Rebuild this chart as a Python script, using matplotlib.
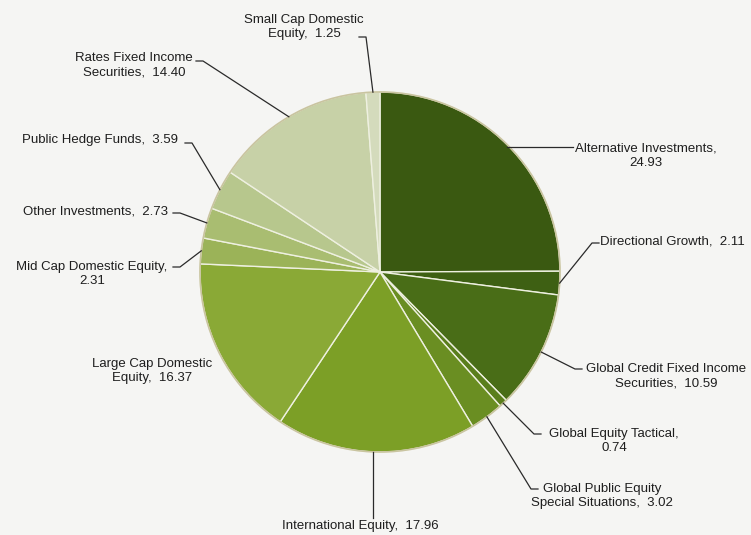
import matplotlib.pyplot as plt
import numpy as np

categories = ['Alternative Investments', 'Directional Growth',
              'Global Credit Fixed Income Securities', 'Global Equity Tactical',
              'Global Public Equity Special Situations', 'International Equity',
              'Large Cap Domestic Equity', 'Mid Cap Domestic Equity',
              'Other Investments', 'Public Hedge Funds',
              'Rates Fixed Income Securities', 'Small Cap Domestic Equity']
values = [24.93, 2.11, 10.59, 0.74, 3.02, 17.96, 16.37, 2.31, 2.73, 3.59, 14.40, 1.25]
label_text = ['Alternative Investments,\n24.93', 'Directional Growth,  2.11',
              'Global Credit Fixed Income\nSecurities,  10.59', 'Global Equity Tactical,\n0.74',
              'Global Public Equity\nSpecial Situations,  3.02', 'International Equity,  17.96',
              'Large Cap Domestic\nEquity,  16.37', 'Mid Cap Domestic Equity,\n2.31',
              'Other Investments,  2.73', 'Public Hedge Funds,  3.59',
              'Rates Fixed Income\nSecurities,  14.40', 'Small Cap Domestic\nEquity,  1.25']
colors = ['#3a5911', '#3e6013', '#496d17', '#5a7e1c', '#6a8e22', '#7c9f26',
          '#8aa936', '#9bb358', '#a9bd71', '#b7c78d', '#c7d1a7', '#d4dbbc']

# layout in pixels: centre and radius of the pie
W, H = 751, 535
cx, cy, R = 380, 272, 180

def to_data(px, py):
    return (px - cx) / R, (cy - py) / R

# text anchor (px), ha, elbow point (px) or None
label_layout = [
    ((575, 156), 'left', (573, 147)),
    ((600, 242), 'left', (592, 243)),
    ((666, 376), 'center', (575, 369)),
    ((614, 441), 'center', (534, 434)),
    ((602, 496), 'center', (531, 489)),
    ((360, 526), 'center', (373, 518)),
    ((152, 371), 'center', None),
    ((92, 274), 'center', (180, 267)),
    ((95, 211), 'center', (180, 213)),
    ((100, 140), 'center', (192, 143)),
    ((134, 65), 'center', (203, 61)),
    ((304, 27), 'center', (366, 37)),
]

fig = plt.figure(figsize=(W / 100, H / 100), dpi=100)
fig.patch.set_facecolor('#f5f5f3')
ax = fig.add_axes([0, 0, 1, 1])
ax.set_facecolor('#f5f5f3')

wedges, _ = ax.pie(values, colors=colors, startangle=90, counterclock=False,
                   radius=1.0, center=(0, 0),
                   wedgeprops=dict(edgecolor='#eef0e0', linewidth=1.0))
ax.add_patch(plt.Circle((0, 0), 1.0, fill=False, edgecolor='#c9c4a0', linewidth=1.2))

font = ['Liberation Sans Narrow', 'Liberation Sans', 'DejaVu Sans']
for w, txt, (tpos, ha, elbow) in zip(wedges, label_text, label_layout):
    ang = np.deg2rad((w.theta1 + w.theta2) / 2)
    ex, ey = np.cos(ang), np.sin(ang)
    tx, ty = to_data(*tpos)
    ax.text(tx, ty, txt, ha=ha, va='center', multialignment='center',
            fontsize=9.5, family=font, color='#1e1e1e', linespacing=1.25)
    if elbow is None:
        continue
    bx, by = to_data(*elbow)
    if txt.startswith('International'):
        ax.plot([bx, bx], [by, ey], color='#2a2a2a', lw=0.9)
    elif txt.startswith('Alternative'):
        ax.plot([bx, ex], [by, by], color='#2a2a2a', lw=0.9)
    elif ex < 0:
        # short horizontal tick next to the text, then to the wedge
        ax.plot([bx - 7 / R, bx, ex], [by, by, ey], color='#2a2a2a', lw=0.9)
    else:
        ax.plot([bx + 7 / R, bx, ex], [by, by, ey], color='#2a2a2a', lw=0.9)

ax.set_xlim(-cx / R, (W - cx) / R)
ax.set_ylim((cy - H) / R, cy / R)
ax.set_aspect('auto')
ax.axis('off')

plt.savefig('out.png', dpi=100, facecolor=fig.get_facecolor())
